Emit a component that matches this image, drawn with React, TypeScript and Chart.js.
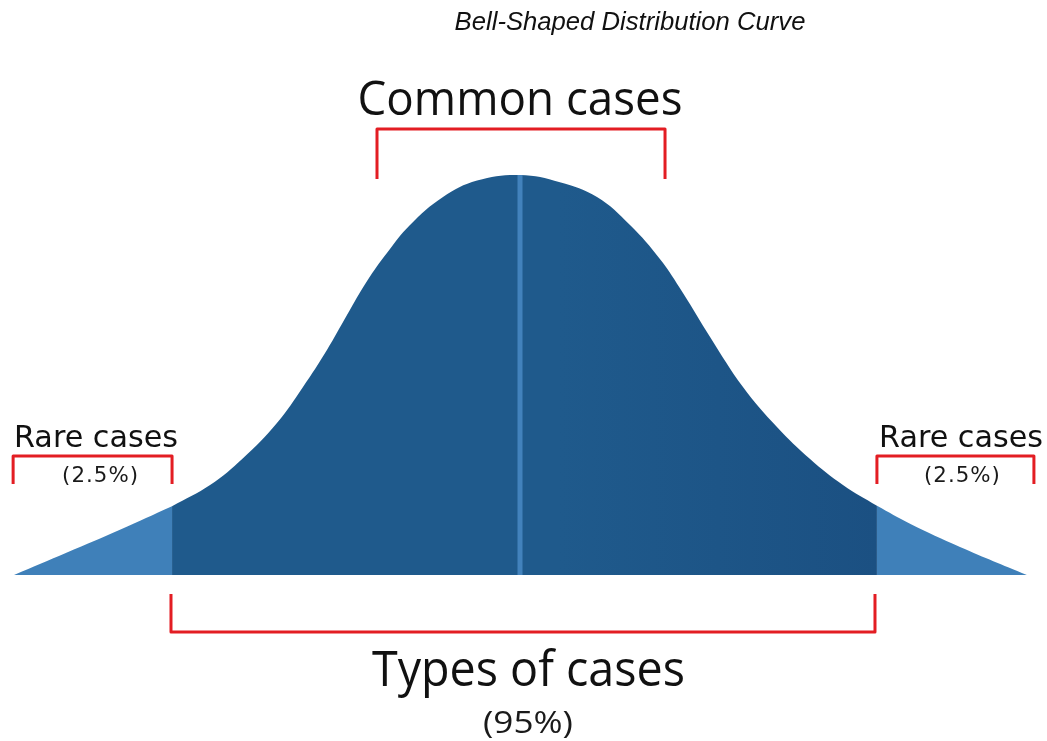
import React, { useEffect, useRef } from "react";
import { Chart, registerables } from "chart.js";

Chart.register(...registerables);

// ---- Data (x in standard-deviation-like units, y = relative frequency, peak = 100) ----
const curveX = [-2.875, -2.574, -2.273, -1.977, -1.761, -1.574, -1.381, -1.233, -1.097, -0.983, -0.869, -0.756, -0.625, -0.4375, -0.244, 0, 0.227, 0.4375, 0.625, 0.795, 0.926, 1.08, 1.267, 1.46, 1.648, 1.835, 2.028, 2.216, 2.5, 2.88];
const curveY = [0, 5.6, 11.3, 17.2, 22.5, 29.2, 38, 47, 56.25, 65, 73.5, 80.5, 87.5, 94.5, 98.6, 100, 98.2, 94.5, 87.5, 79, 70.5, 59.5, 47, 37, 29, 22.5, 17.3, 12.8, 7, 0];
const tailBounds = [-1.977, 2.028];
const meanX = [0, 0];
const meanY = [0, 100];

// annotation ranges (x from, x to) and labels
const commonRange = [-0.8125, 0.824];
const leftRareRange = [-2.88, -1.977];
const rightRareRange = [2.028, 2.92];
const typesRange = [-1.983, 2.017];

const titleText = "Bell-Shaped Distribution Curve";
const commonLabel = "Common cases";
const rareLabel = "Rare cases";
const rarePct = "(2.5%)";
const typesLabel = "Types of cases";
const typesPct = "(95%)";

const DARK = "#1f5a8c";
const DARK_R = "#1b5082";
const LIGHT = "#3f80b9";
const MEAN = "#4282bc";
const RED = "#e31d23";

function pts(lo: number, hi: number) {
  const out: { x: number; y: number }[] = [];
  for (let i = 0; i < curveX.length; i++) {
    if (curveX[i] >= lo - 1e-9 && curveX[i] <= hi + 1e-9) out.push({ x: curveX[i], y: curveY[i] });
  }
  return out;
}

const annotationPlugin = {
  id: "bellAnnotations",
  afterDraw(chart: any) {
    const ctx: CanvasRenderingContext2D = chart.ctx;
    const xs = chart.scales.x;
    const ys = chart.scales.y;
    const px = (v: number) => xs.getPixelForValue(v);
    const py = (v: number) => ys.getPixelForValue(v);

    const bracket = (x1: number, x2: number, yH: number, yEnd: number) => {
      ctx.save();
      ctx.strokeStyle = RED;
      ctx.lineWidth = 3;
      ctx.lineJoin = "round";
      ctx.lineCap = "butt";
      ctx.beginPath();
      ctx.moveTo(px(x1), py(yEnd));
      ctx.lineTo(px(x1), py(yH));
      ctx.lineTo(px(x2), py(yH));
      ctx.lineTo(px(x2), py(yEnd));
      ctx.stroke();
      ctx.restore();
    };

    // mode "stretch": keep font size, scale horizontally to width; "size": change font size to reach width
    const text = (t: string, cx: number, by: number, style: string, size: number, family: string, width: number, mode: "stretch" | "size", color = "#111", spacing = 0) => {
      ctx.save();
      ctx.fillStyle = color;
      ctx.textAlign = "center";
      ctx.textBaseline = "alphabetic";
      ctx.font = `${style} ${size}px ${family}`;
      if (spacing) (ctx as any).letterSpacing = `${spacing}px`;
      const m = ctx.measureText(t).width;
      ctx.translate(px(cx) + spacing / 2, py(by));
      if (mode === "size") {
        const s = (size * width) / m;
        ctx.font = `${style} ${s}px ${family}`;
      } else {
        ctx.scale(width / m, 1);
      }
      ctx.fillText(t, 0, 0);
      ctx.restore();
    };

    bracket(commonRange[0], commonRange[1], 111.5, 99);
    bracket(leftRareRange[0], leftRareRange[1], 29.75, 22.75);
    bracket(rightRareRange[0], rightRareRange[1], 29.75, 22.75);
    bracket(typesRange[0], typesRange[1], -14.25, -4.75);

    const OS = "'Open Sans', 'Noto Sans', sans-serif";
    const DV = "'DejaVu Sans', Verdana, sans-serif";
    text(titleText, 0.625, 136.25, "italic", 20, "'Liberation Sans', Arial, sans-serif", 351, "size");
    text(commonLabel, 0, 115, "normal", 47, OS, 325, "stretch");
    text(rareLabel, -2.409, 32, "normal", 27, DV, 164, "size");
    text(rareLabel, 2.506, 32, "normal", 27, DV, 164, "size");
    text(rarePct, -2.386, 23.25, "normal", 21, DV, 77, "stretch", "#1a1a1a", 1);
    text(rarePct, 2.511, 23.25, "normal", 21, DV, 77, "stretch", "#1a1a1a", 1);
    text(typesLabel, 0.048, -27.75, "normal", 50, OS, 313, "stretch");
    text(typesPct, 0.045, -39.5, "normal", 31, OS, 90, "stretch", "#1a1a1a");
  },
};

export default function App() {
  const ref = useRef<HTMLCanvasElement | null>(null);

  useEffect(() => {
    if (!ref.current) return;
    const centerFill = (c: any) => {
      const chart = c.chart;
      const xs = chart.scales && chart.scales.x;
      if (!xs || !chart.chartArea) return DARK;
      const g = chart.ctx.createLinearGradient(xs.getPixelForValue(tailBounds[0]), 0, xs.getPixelForValue(tailBounds[1]), 0);
      g.addColorStop(0, DARK);
      g.addColorStop(0.55, DARK);
      g.addColorStop(1, DARK_R);
      return g;
    };
    const area = { fill: "origin", pointRadius: 0, borderWidth: 0, tension: 0.4, order: 1 };
    const chart = new Chart(ref.current, {
      type: "line",
      data: {
        datasets: [
          {
            label: "mean",
            data: meanX.map((x, i) => ({ x, y: meanY[i] })),
            borderColor: MEAN,
            borderWidth: 5,
            borderCapStyle: "butt",
            fill: false,
            pointRadius: 0,
            order: 0,
          },
          { label: "left tail", data: pts(curveX[0], tailBounds[0]), backgroundColor: LIGHT, ...area },
          { label: "common", data: pts(tailBounds[0], tailBounds[1]), backgroundColor: centerFill, ...area },
          { label: "right tail", data: pts(tailBounds[1], curveX[curveX.length - 1]), backgroundColor: LIGHT, ...area },
        ],
      },
      options: {
        animation: false,
        responsive: false,
        devicePixelRatio: 1,
        layout: { padding: 0 },
        plugins: { legend: { display: false }, tooltip: { enabled: false }, title: { display: false } },
        scales: {
          x: { type: "linear", min: -520 / 176, max: 527 / 176, display: false },
          y: { type: "linear", min: -41.5, max: 143.75, display: false },
        },
      },
      plugins: [annotationPlugin],
    } as any);
    return () => chart.destroy();
  }, []);

  return (
    <div style={{ position: "fixed", left: 0, top: 0, width: 1047, height: 741, background: "#fff" }}>
      <canvas ref={ref} width={1047} height={741} style={{ display: "block", width: 1047, height: 741 }} />
    </div>
  );
}
